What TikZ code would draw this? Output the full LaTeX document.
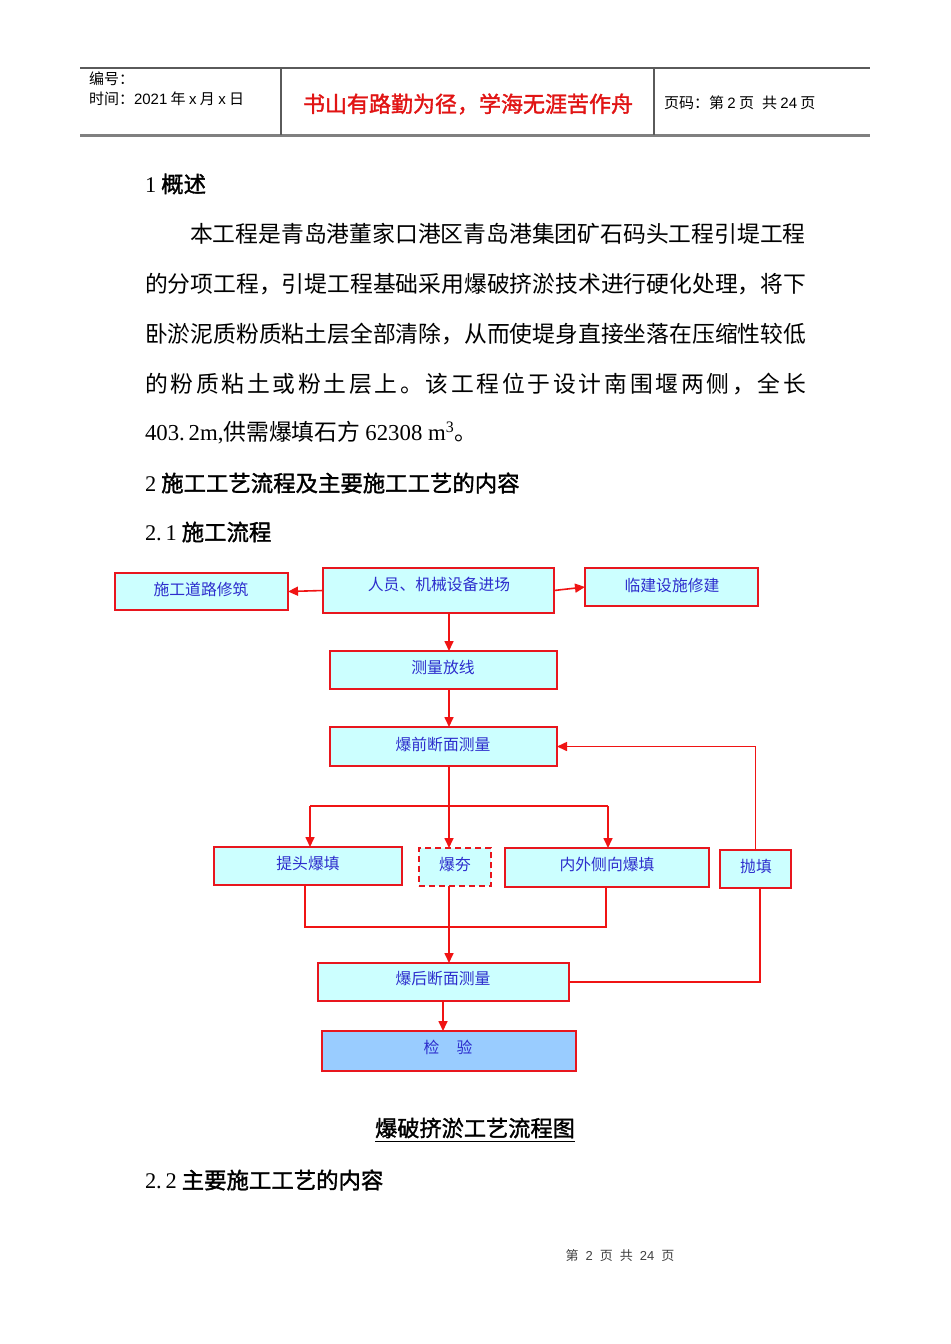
\documentclass[tikz,border=0pt]{standalone}
\usepackage{fontspec}
\setmainfont{Liberation Serif}
\newfontfamily\cjk{Noto Sans CJK SC}
\newfontfamily\cjkb{Noto Sans CJK SC}[FakeBold=1.5]
\newfontfamily\hsans{Liberation Sans}
\usetikzlibrary{arrows.meta,fit}
\definecolor{boxred}{RGB}{232,22,30}
\definecolor{linered}{RGB}{240,20,20}
\definecolor{boxfill}{RGB}{204,255,255}
\definecolor{jyfill}{RGB}{153,204,255}
\definecolor{lblblue}{RGB}{45,45,205}
\definecolor{mottored}{RGB}{225,20,20}
\definecolor{hdrgray}{RGB}{90,90,90}
\begin{document}
\begin{tikzpicture}[x=0.5pt,y=-0.5pt,
  every node/.style={inner sep=0pt, outer sep=0pt},
  box/.style={draw=boxred, fill=boxfill, line width=1pt, inner sep=0pt},
  lbl/.style={font=\cjk\fontsize{7.9pt}{9pt}\selectfont, text=lblblue},
  arr/.style={draw=linered, line width=0.8pt, -{Triangle[length=5pt,width=4.5pt]}},
  ln/.style={draw=linered, line width=0.8pt},
  body/.style={font=\cjk\fontsize{11.4pt}{13pt}\selectfont, anchor=west},
  head/.style={font=\cjkb\fontsize{11.2pt}{13pt}\selectfont, anchor=west},
  hdr/.style={font=\cjk\fontsize{7.5pt}{9pt}\selectfont, anchor=west}
]
\useasboundingbox[fill=white] (0,0) rectangle (950,1344);

% ---- header ----
\draw[hdrgray, line width=0.6pt] (80,68) -- (870,68);
\draw[gray, line width=1.1pt] (80,135.5) -- (870,135.5);
\draw[hdrgray, line width=0.6pt] (281,68) -- (281,135);
\draw[hdrgray, line width=0.6pt] (654,68) -- (654,135);
\node[hdr] (h1) at (89,79) {编号：};
\node[hdr] (h2) at (89,99) {时间：{\hsans 2021} 年 {\hsans x} 月 {\hsans x} 日};
\node[font=\cjkb\fontsize{11pt}{13pt}\selectfont, text=mottored] (motto) at (468,104) {书山有路勤为径，学海无涯苦作舟};
\node[hdr] (pg) at (664,103) {页码：第 {\hsans 2} 页\hspace{4pt}共 {\hsans 24} 页};

% ---- body text ----
\node[head] (s1) at (145,184) {{\rmfamily\mdseries 1} 概述};
\node[body] (p1) at (190,234) {本工程是青岛港董家口港区青岛港集团矿石码头工程引堤工程};
\node[body] (p2) at (145,284) {的分项工程，引堤工程基础采用爆破挤淤技术进行硬化处理，将下};
\node[body] (p3) at (145,334) {卧淤泥质粉质粘土层全部清除，从而使堤身直接坐落在压缩性较低};
\node[body] (p4) at (145,384) {\makebox[330.5pt][s]{的\hfill 粉\hfill 质\hfill 粘\hfill 土\hfill 或\hfill 粉\hfill 土\hfill 层\hfill 上\hfill 。\hfill 该\hfill 工\hfill 程\hfill 位\hfill 于\hfill 设\hfill 计\hfill 南\hfill 围\hfill 堰\hfill 两\hfill 侧\hfill ，\hfill 全\hfill 长}};
\node[body] (p5) at (145,433) {{\rmfamily 403.\,2m,}供需爆填石方 {\rmfamily 62308 m\textsuperscript{3}}。};
\node[head] (s2) at (145,483) {{\rmfamily\mdseries 2} 施工工艺流程及主要施工工艺的内容};
\node[head] (s21) at (145,532) {{\rmfamily\mdseries 2.\,1} 施工流程};

% ---- flowchart boxes ----
\node[box, fit={(115,573)(288,610)}] (sg) {};
\node[box, fit={(323,568)(554,613)}] (ry) {};
\node[box, fit={(585,568)(758,606)}] (lj) {};
\node[box, fit={(330,651)(557,689)}] (cl) {};
\node[box, fit={(330,727)(557,766)}] (bq) {};
\node[box, fit={(214,847)(402,885)}] (tt) {};
\node[box, dash pattern=on 3pt off 2pt, fit={(419,848)(491,886)}] (bh) {};
\node[box, fit={(505,848)(709,887)}] (nw) {};
\node[box, fit={(720,850)(791,888)}] (pt) {};
\node[box, fit={(318,963)(569,1001)}] (hh) {};
\node[box, fill=jyfill, fit={(322,1031)(576,1071)}] (jy) {};

\node[lbl] (tsg) at (201,589) {施工道路修筑};
\node[lbl] (try) at (439,584) {人员、机械设备进场};
\node[lbl] (tlj) at (672,585) {临建设施修建};
\node[lbl] (tcl) at (443,667) {测量放线};
\node[lbl] (tbq) at (443,744) {爆前断面测量};
\node[lbl] (ttt) at (308,863) {提头爆填};
\node[lbl] (tbh) at (455,864) {爆夯};
\node[lbl] (tnw) at (607,864) {内外侧向爆填};
\node[lbl] (tpt) at (756,866) {抛填};
\node[lbl] (thh) at (443,979) {爆后断面测量};
\node[lbl] (tjy) at (448,1047) {检\hspace{1.1em}验};

% ---- connectors ----
\coordinate (xm) at (449,0);
\coordinate (xj) at (443,0);
\coordinate (xp) at (760,0);
\coordinate (bl) at (310,806);
\coordinate (br) at (608,806);
\coordinate (c1) at (305,927);
\coordinate (c2) at (606,927);

\draw[arr] (ry.west) -- (sg.east);
\draw[arr] (ry.east) -- (lj.west);
\draw[arr] (ry.south -| xm) -- (cl.north -| xm);
\draw[arr] (cl.south -| xm) -- (bq.north -| xm);
\draw[arr] (bq.south -| xm) -- (bh.north -| xm);
\draw[ln] (bl) -- (br);
\draw[arr] (bl) -- (bl |- tt.north);
\draw[arr] (br) -- (br |- nw.north);
\draw[arr] (pt.north) |- (bq.east);
\draw[ln] (tt.south -| c1) -- (c1) -- (c2) -- (nw.south -| c2);
\draw[arr] (bh.south -| xm) -- (hh.north -| xm);
\draw[ln] (pt.south -| xp) |- (hh.east);
\draw[arr] (hh.south -| xj) -- (jy.north -| xj);

% ---- caption, next heading, footer ----
\node[font=\cjkb\fontsize{11.1pt}{13pt}\selectfont] (cap) at (475,1130) {\underline{爆破挤淤工艺流程图}};
\node[head] (s22) at (145,1180) {{\rmfamily\mdseries 2.\,2} 主要施工工艺的内容};
\node[font=\cjk\fontsize{6.5pt}{8pt}\selectfont, text=black!75] (ft) at (620,1256) {第\hspace{3.5pt}{\hsans 2}\hspace{3.5pt}页\hspace{3.5pt}共\hspace{3.5pt}{\hsans 24}\hspace{3.5pt}页};
\end{tikzpicture}
\end{document}
